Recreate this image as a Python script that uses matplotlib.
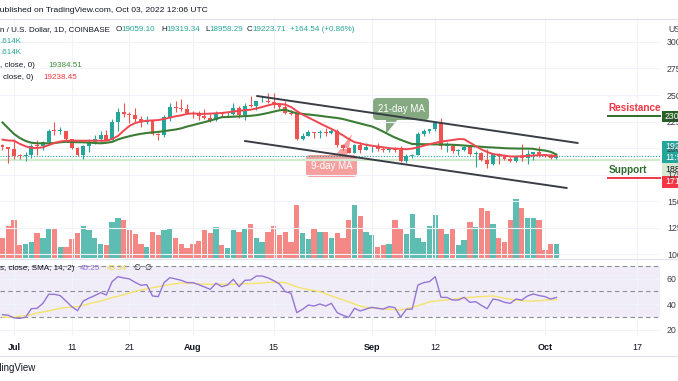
import matplotlib
matplotlib.use("Agg")
import matplotlib.pyplot as plt
from matplotlib.patches import FancyBboxPatch, Rectangle, Polygon
from matplotlib.transforms import Affine2D
from matplotlib.lines import Line2D

# ---------------- data (daily, Jun 29 2022 -> Oct 03 2022) ----------------
opens = [20280,20105,19940,19260,19240,19310,20230,20180,20550,21630,
         21590,21590,20860,19970,19330,20220,20580,20830,21190,20790,
         22430,23390,23230,23160,22690,22450,22580,21310,21250,22950,
         23850,23780,23640,23300,23270,22990,22820,22620,23310,23170,
         23170,23810,23160,23950,23940,24400,24440,24310,24100,23850,
         23340,23190,20830,21140,21520,21400,21530,21370,21570,20240,
         20040,19550,20290,19800,20050,20130,19950,19830,19990,19800,
         18790,19290,19320,21360,21650,21830,22400,20170,20230,19700,
         19800,20110,19420,19540,18880,18490,19410,19290,18920,18800,
         19220,19080,19410,19590,19420,19310,19059.10]
closes = [20105,19940,19260,19240,19310,20230,20180,20550,21630,21590,
          21600,20860,19970,19330,20220,20580,20830,21190,20790,22430,
          23390,23230,23160,22690,22450,22580,21310,21250,22950,23850,
          23780,23640,23300,23270,22990,22820,22620,23310,23170,23180,
          23810,23160,23950,23940,24400,24440,24310,24100,23850,23340,
          23190,20830,21140,21520,21400,21530,21370,21570,20240,20040,
          19550,20290,19800,20050,20130,19950,19830,19990,19800,18790,
          19290,19320,21360,21650,21830,22400,20170,20230,19700,19800,
          20110,19420,19540,18880,18490,19410,19290,18920,18800,19220,
          19080,19410,19590,19420,19310,19059,19223.71]
highs = [20400,20140,20870,19420,19650,20350,20740,20660,21800,22500,
         21950,21600,20870,20050,20250,20880,21200,21560,21670,22740,
         23780,24280,23440,23760,22990,22980,22660,21370,23100,24200,
         24440,24660,24170,23500,23450,23650,23220,23460,23350,23400,
         24200,23920,24230,24900,24450,24890,25200,25210,24250,24450,
         23600,23200,21380,21690,21520,21660,21880,21820,21800,20350,
         20140,20400,20570,20490,20200,20440,20050,20030,20050,20180,
         19460,19450,21540,21800,21830,22480,22790,20540,20330,19890,
         20180,20110,19680,19630,19950,19500,19500,19310,19190,19320,
         20350,19780,19640,20190,19480,19390,19319.34]
lows = [19850,18630,19000,18970,18780,19050,19300,19790,20250,21200,
        21340,20650,19900,19240,18920,19640,20380,20480,20760,20760,
        21600,22920,22350,22500,22000,22280,21260,20720,21040,22590,
        23420,23500,23230,22860,22680,22700,22430,22590,22930,22880,
        23150,22870,22670,23870,23600,24300,24200,23780,23700,23200,
        23100,20800,20770,21100,20900,20900,21150,21310,20130,19810,
        19550,19550,19550,19800,19650,19760,19650,19600,19640,18650,
        18540,19020,19310,21130,21380,21560,19880,19630,19500,19320,
        19760,19360,18240,18770,18130,18360,18530,18830,18640,18690,
        18820,18480,18840,19160,19160,18920,18958.29]
volumes_k = [17,27,32,11,12,13,21,17,24,24,
             9,9,16,21,27,23,17,12,11,30,
             33,32,23,20,12,9,22,19,23,25,
             17,12,8,12,14,23,21,26,11,8,
             23,22,25,28,17,13,22,27,19,22,
             13,44,21,16,25,22,22,17,21,17,
             32,44,35,22,19,9,11,12,32,25,
             20,37,17,13,27,36,24,20,24,11,
             15,30,26,42,39,28,17,13,32,49,
             42,33,33,32,7,12,11.6]
ma9 = [20792,20708,20689,20387,20160,20009,20009,20066,20273,20472,
       20613,20689,20689,20689,20689,20689,20689,20689,20689,20849,
       21132,21632,22085,22358,22490,22575,22604,22632,22736,22868,
       22991,23085,23217,23264,23226,23217,23245,23274,23302,23368,
       23443,23509,23566,23613,23726,23868,24019,24151,24151,24094,
       23868,23491,23151,22877,22604,22330,22057,21802,21509,21198,
       20849,20556,20434,20302,20217,20142,20066,19981,19943,19915,
       19887,19943,20066,20217,20368,20481,20613,20679,20755,20840,
       20830,20509,20189,19868,19623,19434,19358,19283,19207,19198,
       19226,19255,19292,19330,19320,19300,19238.45]
ma21 = [22406,21858,21321,20943,20660,20500,20443,20443,20443,20472,
        20538,20585,20566,20547,20538,20510,20472,20443,20491,20575,
        20802,20972,21113,21236,21340,21415,21472,21519,21594,21670,
        21745,21858,22028,22160,22302,22443,22585,22745,22906,22924,
        22953,22981,23009,23038,23094,23189,23302,23434,23557,23604,
        23434,23274,23217,23160,23104,23038,22962,22896,22830,22736,
        22594,22453,22311,22170,22038,21811,21538,21255,20991,20774,
        20566,20377,20368,20358,20349,20340,20330,20321,20302,20274,
        20236,20189,20151,20113,20075,20047,20019,19981,19962,19953,
        19943,19943,19925,19821,19764,19642,19384.51]
rsi = [31.7,31.2,29.1,28.8,29.6,36.4,36.7,40.6,47.7,47.7,
       46.7,42.4,38.0,34.8,42.4,44.8,46.7,49.0,47.2,57.7,
       61.6,60.6,59.8,57.1,54.8,55.3,46.4,45.9,56.9,60.8,
       59.8,58.7,56.9,56.9,55.3,53.5,51.6,56.4,53.7,55.0,
       59.5,53.7,58.7,59.0,62.1,62.1,60.6,58.5,55.8,49.8,
       48.5,33.3,35.9,39.3,38.5,40.1,38.5,40.6,33.3,31.2,
       29.6,36.7,34.6,36.1,37.5,36.7,36.1,38.0,37.2,29.8,
       35.9,36.1,55.0,56.9,57.7,61.6,45.3,45.3,43.2,43.2,
       45.3,41.4,41.9,39.0,36.4,44.0,43.2,41.4,40.6,44.0,
       43.2,46.4,48.0,46.7,45.9,44.0,45.25]
rsi_ma = [29.8,29.6,29.8,30.4,30.9,31.7,33.0,33.8,34.6,35.6,
          36.7,37.2,37.7,38.0,39.0,40.3,41.4,42.4,43.8,45.1,
          46.1,47.4,48.7,50.1,51.1,51.9,52.9,53.7,54.5,55.3,
          56.1,56.6,56.6,56.4,55.8,55.6,55.6,55.6,55.6,55.6,
          55.6,55.8,56.1,56.1,56.4,56.6,57.1,57.1,57.1,56.9,
          55.3,53.5,52.4,51.4,50.6,49.8,48.2,46.4,44.8,43.5,
          41.7,40.1,38.5,37.5,36.9,36.7,36.1,35.9,35.6,35.4,
          36.4,37.5,38.8,40.1,41.7,42.4,43.0,43.2,43.8,44.3,
          45.1,45.3,45.6,45.9,46.1,46.4,45.6,44.5,43.8,43.0,
          42.7,42.4,42.4,42.7,43.2,43.5,43.34]

tick_pos = [2, 12, 22, 33, 47, 64, 75, 94, 110]
tick_labels = ["Jul", "11", "21", "Aug", "15", "Sep", "12", "Oct", "17"]
bold_ticks = {"Jul", "Aug", "Sep", "Oct"}
price_ticks = [10000, 12500, 15000, 17500, 20000, 22500, 25000, 27500, 30000]
price_tick_labels = ["10000.00", "12500.00", "15000.00", "17500.00", "20000.00",
                     "22500.00", "25000.00", "27500.00", "30000.00"]
rsi_ticks = [20, 40, 60]

channel_upper = [(44.1, 24906), (99.7, 20472)]
channel_lower = [(42.0, 20660), (97.8, 16226)]
resistance_level = 23000
support_level = 17170
pale_level = 18870

# ---------------- style ----------------
TEAL = "#26a69a"
RED = "#ef5350"
VTEAL = "#5dbdb3"
VRED = "#f48885"
GRID = "#f0f3fa"
TXT = "#131722"
FONT = "Liberation Sans"
plt.rcParams["font.family"] = [FONT, "DejaVu Sans"]

W, H = 678, 381
fig = plt.figure(figsize=(W / 100, H / 100), dpi=100)
fig.patch.set_facecolor("white")
PX = Affine2D().scale(1, -1).translate(0, H)   # pixel (top-left origin) -> display


def fy(y):
    return 1 - y / H


XMIN, XMAX = -0.433, 113.95
n = len(closes)
idx = list(range(n))
RIGHT = 660 / W

# ---------------- main pane ----------------
ax = fig.add_axes([0, fy(258), RIGHT, (258 - 18) / H])
axv = ax.twinx()
axv.set_ylim(0, 200)
axv.set_xlim(XMIN, XMAX)
axv.axis("off")
vcols = [VTEAL if c >= o else VRED for o, c in zip(opens, closes)]
axv.bar(idx, volumes_k, width=0.92, color=vcols, linewidth=0, zorder=1)
ax.set_zorder(axv.get_zorder() + 1)
ax.patch.set_visible(False)

ax.set_xlim(XMIN, XMAX)
ax.set_ylim(9623, 32264)
for s in ax.spines.values():
    s.set_visible(False)
ax.set_xticks(tick_pos)
ax.set_yticks(price_ticks)
ax.set_yticklabels(price_tick_labels)
ax.grid(True, color=GRID, lw=0.8)
ax.set_axisbelow(True)
ax.yaxis.tick_right()
ax.tick_params(axis="x", length=0, labelbottom=False)
ax.tick_params(axis="y", length=0, pad=5, labelsize=6.3, labelcolor="#3b3f48",
               labelleft=False, labelright=True, left=False, right=False)

# candles
ccols = [TEAL if c >= o else RED for o, c in zip(opens, closes)]
ax.vlines(idx, lows, highs, colors=ccols, lw=0.8, zorder=3)
bot = [min(o, c) for o, c in zip(opens, closes)]
hgt = [max(abs(c - o), 70) for o, c in zip(opens, closes)]
ax.bar(idx, hgt, bottom=bot, width=0.68, color=ccols, linewidth=0, zorder=4)

# moving averages
ax.plot(idx, ma21, color="#3c7d36", lw=1.5, zorder=5)
ax.plot(idx, ma9, color="#f0464f", lw=1.4, zorder=6)

# horizontal price lines
ax.axhline(pale_level, color="#d3ead0", lw=1.6, zorder=2)
ax.axhline(closes[-1], color=TEAL, lw=0.8, ls=(0, (1, 1.5)), zorder=2)

# channel
for seg in (channel_upper, channel_lower):
    ax.plot([seg[0][0], seg[1][0]], [seg[0][1], seg[1][1]], color="#3a3d46", lw=1.4,
            zorder=7, solid_capstyle="round")

# resistance / support marks
ax.plot([104.9, XMAX], [resistance_level, resistance_level], color="#2e6b2a", lw=1.4,
        zorder=7, clip_on=False)
ax.plot([104.9, XMAX], [support_level, support_level], color="#f23645", lw=1.4, zorder=7,
        clip_on=False)
ax.text(105.0, resistance_level + 260, "Resistance", color="#f23645", fontsize=7.2,
        fontweight="bold", va="bottom", ha="left", zorder=8)
ax.text(105.0, support_level + 260, "Support", color="#2e6b2a", fontsize=7.2,
        fontweight="bold", va="bottom", ha="left", zorder=8)

# ---------------- RSI pane ----------------
ar = fig.add_axes([0, fy(336), RIGHT, (336 - 260) / H])
ar.set_xlim(XMIN, XMAX)
ar.set_ylim(14.9, 74.7)
for s in ar.spines.values():
    s.set_visible(False)
ar.axhspan(30, 70, color="#7e57c2", alpha=0.1, lw=0, zorder=0)
for lv in (70, 50, 30):
    ar.axhline(lv, color="#8a8d96", lw=0.8, ls=(0, (4, 3)), zorder=1)
ar.set_xticks(tick_pos)
ar.set_yticks(rsi_ticks)
ar.grid(True, color=GRID, lw=0.8)
ar.set_axisbelow(True)
ar.yaxis.tick_right()
ar.tick_params(axis="y", length=0, pad=5, labelsize=6.3, labelcolor="#3b3f48")
ar.set_xticklabels(tick_labels)
ar.tick_params(axis="x", length=0, pad=5, labelsize=6.5, labelcolor=TXT)
for lab in ar.get_xticklabels():
    if lab.get_text() in bold_ticks:
        lab.set_fontweight("bold")
ar.plot(idx, rsi_ma, color="#f5e36a", lw=1.0, zorder=3)
ar.plot(idx, rsi, color="#9575d6", lw=1.0, zorder=4)

# ---------------- separators ----------------
for yy in (18.5, 259, 355.5):
    fig.add_artist(Line2D([0, W], [yy, yy], transform=PX, color="#e0e3eb", lw=0.9))


# ---------------- header / legends ----------------
def ptext(x, y, s, color=TXT, size=5.8, weight="normal", ha="left"):
    fig.text(x, y, s, transform=PX, color=color, fontsize=size, fontweight=weight,
             ha=ha, va="center")


ptext(-6, 10, "Published on TradingView.com, Oct 03, 2022 12:06 UTC", size=6.1)
ptext(0, 29.5, "n / U.S. Dollar, 1D, COINBASE")
ptext(116, 29.5, "O")
ptext(121.5, 29.5, "19059.10", color=TEAL)
ptext(161, 29.5, "H")
ptext(166, 29.5, "19319.34", color=TEAL)
ptext(205, 29.5, "L")
ptext(209, 29.5, "18958.29", color=TEAL)
ptext(246.5, 29.5, "C")
ptext(252, 29.5, "19223.71", color=TEAL)
ptext(290, 29.5, "+164.54 (+0.86%)", color=TEAL)
ptext(0, 41.5, ".614K", color=TEAL)
ptext(0, 53, ".614K", color=TEAL)
ptext(0, 65.5, ", close, 0)")
ptext(48, 65.5, "19384.51", color="#3c8d37")
ptext(3, 77.5, "close, 0)")
ptext(43, 77.5, "19238.45", color="#f23645")
ptext(668, 29.5, "USD", size=6.3, color="#3b3f48")

ptext(0, 269, "s, close, SMA, 14, 2)")
ptext(80, 269, "45.25", color="#8c6bd1")
ptext(107, 269, "43.34", color="#e8d44a")
ptext(133, 269, "\u2205")
ptext(144, 269, "\u2205")

ptext(-17, 368, "TradingView", size=7.0)


# ---------------- price-axis labels ----------------
def plabel(y0, y1, bg, lines, fg="white"):
    fig.add_artist(Rectangle((661.5, y0), W - 661.5, y1 - y0, transform=PX, color=bg, lw=0))
    h = (y1 - y0) / len(lines)
    for k, t in enumerate(lines):
        fig.text(665, y0 + h * (k + 0.5), t, transform=PX, color=fg, fontsize=6.3,
                 ha="left", va="center")


plabel(111, 122, "#285f24", ["23000.00"])
plabel(141, 163, TEAL, ["19223.71", "11:53:41"])
plabel(163, 176, "#d7e9d2", ["18870.00"], fg=TXT)
plabel(176, 188, "#f23645", ["17170.00"])

# ---------------- annotation bubbles ----------------
fig.add_artist(FancyBboxPatch((375, 100), 52, 18, boxstyle="round,pad=2,rounding_size=4",
                              transform=PX, fc="#7fa67a", ec="none", alpha=0.95))
fig.add_artist(Polygon([(386, 119), (398, 119), (386, 134)], closed=True, transform=PX,
                       fc="#7fa67a", ec="none", alpha=0.95))
fig.text(401, 109, "21-day MA", transform=PX, color="white", fontsize=7, ha="center",
         va="center")

fig.add_artist(FancyBboxPatch((308, 157), 47, 18, boxstyle="round,pad=2,rounding_size=4",
                              transform=PX, fc="#f59a9a", ec="none", alpha=0.95))
fig.add_artist(Polygon([(335, 156), (347, 156), (352, 134)], closed=True, transform=PX,
                       fc="#f59a9a", ec="none", alpha=0.95))
fig.text(331.5, 166, "9-day MA", transform=PX, color="white", fontsize=7, ha="center",
         va="center")

fig.savefig("out.png", dpi=100, facecolor="white")
